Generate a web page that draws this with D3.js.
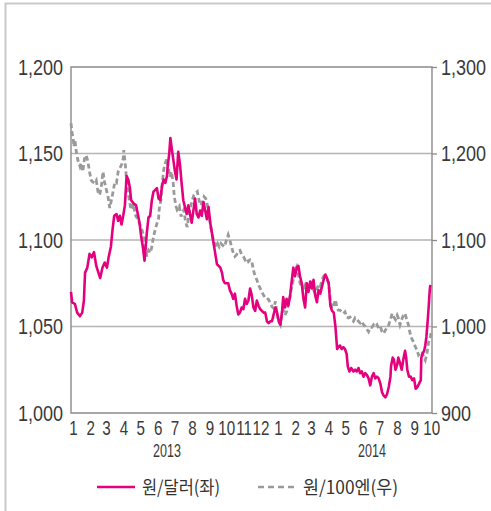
<!DOCTYPE html>
<html>
<head>
<meta charset="utf-8">
<script src="https://cdn.jsdelivr.net/npm/d3@7"></script>
<style>
  html, body { margin: 0; padding: 0; background: #fff; }
  svg { display: block; }
  .num { font-family: "Liberation Sans", Arial, sans-serif; fill: #3a3a3a; }
  .kr { font-family: "Noto Sans CJK KR", "Noto Sans", sans-serif; fill: #333; }
</style>
</head>
<body>
<svg id="chart" width="491" height="511"></svg>
<script>
// ---- data ----
// [days since 2013-01-02, value]
const usdKrw = [[0,1070],[2,1064],[7,1063],[11,1058],[16,1056],[20,1058],[23,1065],[25,1081],[29,1084],[33,1092],[37,1090],[41,1093],[45,1085],[49,1081],[52,1078],[56,1084],[60,1087],[64,1084],[67,1090],[71,1096],[74,1106],[77,1114],[81,1115],[84,1111],[87,1114],[90,1109],[93,1114],[96,1120],[99,1137],[102,1135],[105,1130],[107,1123],[112,1121],[116,1120],[119,1115],[122,1110],[125,1102],[128,1096],[131,1088],[135,1104],[138,1113],[141,1114],[144,1123],[147,1128],[150,1129],[153,1130],[156,1124],[159,1123],[162,1131],[165,1135],[168,1133],[171,1137],[172,1142],[175,1150],[177,1159],[179,1154],[182,1147],[185,1140],[188,1135],[191,1151],[194,1144],[197,1133],[200,1123],[203,1119],[206,1115],[209,1120],[212,1115],[215,1110],[218,1117],[221,1124],[224,1115],[227,1113],[230,1117],[233,1114],[236,1122],[239,1117],[242,1112],[245,1119],[248,1110],[251,1104],[254,1098],[257,1092],[260,1086],[263,1085],[266,1084],[269,1081],[271,1077],[274,1075],[280,1075],[283,1071],[286,1069],[289,1066],[292,1069],[295,1062],[298,1057],[301,1058],[304,1061],[307,1060],[310,1066],[313,1063],[316,1065],[319,1072],[322,1068],[325,1061],[328,1059],[331,1065],[334,1062],[337,1060],[343,1058],[346,1058],[349,1053],[352,1052],[355,1053],[358,1053],[361,1057],[364,1061],[367,1058],[370,1053],[373,1051],[376,1059],[378,1067],[381,1061],[384,1066],[387,1062],[390,1067],[393,1076],[396,1084],[399,1079],[402,1084],[405,1085],[408,1079],[411,1075],[414,1066],[417,1061],[420,1075],[423,1070],[426,1076],[429,1072],[432,1077],[435,1068],[438,1064],[441,1071],[444,1069],[447,1073],[450,1077],[453,1080],[456,1078],[459,1075],[462,1062],[465,1059],[468,1058],[471,1050],[474,1037],[476,1038],[479,1039],[482,1037],[485,1038],[488,1037],[491,1034],[493,1027],[496,1024],[499,1026],[503,1024],[506,1025],[509,1024],[512,1026],[515,1023],[518,1024],[521,1021],[524,1023],[527,1022],[530,1020],[533,1016],[536,1021],[539,1023],[542,1020],[545,1021],[548,1020],[551,1017],[554,1012],[557,1010],[560,1009],[563,1011],[566,1015],[569,1021],[570,1027],[573,1032],[575,1031],[578,1025],[581,1028],[583,1032],[586,1029],[589,1025],[592,1031],[595,1036],[597,1032],[599,1025],[602,1021],[605,1021],[608,1019],[611,1020],[614,1014],[617,1015],[620,1017],[623,1019],[624,1032],[626,1034],[629,1036],[631,1039],[633,1044],[635,1052],[637,1061],[639,1071],[640,1074]];

const jpyKrw = [[0,1235],[2,1223],[4,1218],[5,1208],[7,1216],[9,1204],[12,1193],[16,1185],[18,1189],[21,1179],[24,1194],[27,1198],[30,1191],[33,1179],[36,1169],[39,1167],[42,1166],[45,1169],[48,1156],[51,1152],[54,1162],[57,1179],[60,1166],[63,1158],[66,1150],[69,1137],[72,1146],[75,1156],[78,1167],[81,1166],[84,1179],[87,1183],[90,1187],[93,1194],[94,1204],[97,1185],[99,1169],[102,1154],[105,1142],[107,1135],[111,1142],[114,1131],[116,1127],[119,1125],[122,1119],[125,1115],[128,1108],[131,1096],[135,1081],[138,1088],[141,1085],[144,1092],[147,1104],[150,1112],[153,1119],[156,1125],[157,1135],[160,1146],[162,1162],[165,1181],[168,1189],[171,1194],[173,1185],[176,1173],[179,1179],[182,1166],[184,1150],[187,1139],[189,1135],[193,1139],[196,1127],[198,1131],[201,1135],[204,1121],[207,1115],[210,1129],[213,1139],[216,1146],[219,1152],[222,1154],[225,1156],[228,1146],[231,1140],[234,1144],[237,1150],[240,1148],[243,1140],[246,1127],[249,1115],[252,1104],[255,1098],[258,1092],[261,1096],[264,1092],[267,1096],[270,1094],[273,1092],[278,1102],[280,1106],[283,1100],[286,1092],[289,1085],[292,1081],[295,1083],[298,1087],[301,1088],[304,1083],[307,1081],[310,1077],[313,1079],[316,1075],[319,1077],[322,1075],[325,1065],[328,1058],[331,1054],[334,1048],[337,1044],[340,1040],[343,1036],[346,1033],[349,1033],[352,1031],[355,1027],[358,1023],[361,1021],[364,1029],[367,1015],[370,1006],[373,1002],[376,1015],[378,1019],[381,1013],[384,1017],[387,1027],[390,1034],[393,1046],[396,1054],[399,1065],[402,1069],[405,1060],[408,1050],[411,1046],[414,1044],[417,1048],[420,1042],[423,1046],[426,1048],[429,1054],[432,1042],[435,1038],[438,1044],[441,1048],[444,1046],[447,1054],[450,1058],[453,1056],[456,1054],[459,1050],[462,1029],[465,1021],[468,1025],[471,1031],[474,1021],[476,1019],[479,1019],[482,1017],[485,1015],[488,1017],[491,1011],[494,1010],[497,1011],[500,1008],[503,1006],[506,1010],[509,1008],[512,1006],[515,1004],[518,1006],[521,1002],[524,1000],[527,997],[530,994],[533,999],[536,999],[539,1002],[542,1000],[545,1002],[548,998],[551,1000],[554,994],[557,992],[560,996],[563,998],[566,1002],[569,1008],[572,1015],[575,1011],[578,1008],[581,1013],[583,1010],[586,1002],[589,1008],[592,1013],[595,1015],[598,1008],[601,1002],[604,992],[607,986],[610,982],[613,977],[616,973],[619,967],[622,969],[625,971],[628,965],[631,961],[634,969],[637,982],[640,988],[642,994]];

const leftTicks = [1000, 1050, 1100, 1150, 1200];
const rightTicks = [900, 1000, 1100, 1200, 1300];
const monthLabels = ["1","2","3","4","5","6","7","8","9","10","11","12","1","2","3","4","5","6","7","8","9","10"];
const yearLabels = ["2013", "2014"];
const seriesNames = ["원/달러(좌)", "원/100엔(우)"];

// ---- layout ----
const svg = d3.select("#chart");
const L = 71, R = 432, T = 67, B = 413;
const SX = 0.82; // horizontal condensing of number labels
const base = new Date(2013, 0, 2);
const toDate = d => d3.timeDay.offset(base, d);

const x = d3.scaleTime().domain([base, toDate(643)]).range([L, R]);
const yL = d3.scaleLinear().domain([1000, 1200]).range([B, T]);
const yR = d3.scaleLinear().domain([900, 1300]).range([B, T]);
const fmt = d3.format(",");

// outer frame
svg.append("path").attr("d", `M5.5,511 V3.5 H491`).attr("fill", "none")
  .attr("stroke", "#c9c9c9").attr("stroke-width", 2);

// gridlines
svg.append("g").selectAll("line").data(leftTicks.filter(v => v > 1000 && v < 1200)).join("line")
  .attr("x1", L).attr("x2", R).attr("y1", d => yL(d)).attr("y2", d => yL(d))
  .attr("stroke", "#b4b4b4").attr("stroke-width", 1.3);

// left axis
const gL = svg.append("g").attr("transform", `translate(${L},0)`)
  .call(d3.axisLeft(yL).tickValues(leftTicks).tickSize(0).tickPadding(8 / SX).tickFormat(fmt));
gL.select(".domain").remove();
gL.selectAll("text").attr("class", "num").attr("font-size", 22).attr("fill", "#3a3a3a")
  .attr("transform", `scale(${SX},1)`);

// right axis
const gR = svg.append("g").attr("transform", `translate(${R},0)`)
  .call(d3.axisRight(yR).tickValues(rightTicks).tickSize(5).tickPadding(9 / SX - 5).tickFormat(fmt));
gR.select(".domain").remove();
gR.selectAll("line").attr("stroke", "#8a8a8a").attr("stroke-width", 1.3);
gR.selectAll("text").attr("class", "num").attr("font-size", 22).attr("fill", "#3a3a3a")
  .attr("transform", `scale(${SX},1)`);

// frame lines
svg.append("path").attr("d", `M${L},${T} H${R} V${B} H${L} Z`).attr("fill", "none")
  .attr("stroke", "#8a8a8a").attr("stroke-width", 1.4);

// lines
const lineL = d3.line().x(d => x(toDate(d[0]))).y(d => yL(d[1]));
const lineR = d3.line().x(d => x(toDate(d[0]))).y(d => yR(d[1]));

svg.append("path").datum(jpyKrw).attr("d", lineR).attr("fill", "none")
  .attr("stroke", "#9a9a9a").attr("stroke-width", 2.8).attr("stroke-dasharray", "5,3");
svg.append("path").datum(usdKrw).attr("d", lineL).attr("fill", "none")
  .attr("stroke", "#e5007e").attr("stroke-width", 2.6).attr("stroke-linejoin", "round");

// month labels
const months = d3.timeMonth.range(new Date(2013, 0, 1), new Date(2014, 9, 2));
svg.append("g").selectAll("g").data(monthLabels).join("g")
  .attr("transform", (d, i) => `translate(${x(months[i]) + 3},435)`)
  .append("text").attr("class", "num").attr("font-size", 20).attr("text-anchor", "middle")
  .attr("transform", "scale(0.76,1)").text(d => d);

// year labels
svg.append("g").selectAll("g").data(yearLabels).join("g")
  .attr("transform", d => `translate(${x(new Date(+d, 5, 22))},457)`)
  .append("text").attr("class", "num").attr("font-size", 19).attr("text-anchor", "middle")
  .attr("transform", "scale(0.66,1)").text(d => d);

// legend
const leg = svg.append("g");
leg.append("line").attr("x1", 97).attr("x2", 135).attr("y1", 487).attr("y2", 487)
  .attr("stroke", "#e5007e").attr("stroke-width", 2.6);
leg.append("text").attr("class", "kr").attr("x", 142).attr("y", 494).attr("font-size", 18)
  .attr("textLength", 78).attr("lengthAdjust", "spacingAndGlyphs").text(seriesNames[0]);
leg.append("line").attr("x1", 258).attr("x2", 296).attr("y1", 487).attr("y2", 487)
  .attr("stroke", "#9a9a9a").attr("stroke-width", 2.6).attr("stroke-dasharray", "6,4");
leg.append("text").attr("class", "kr").attr("x", 303).attr("y", 494).attr("font-size", 18)
  .attr("textLength", 95).attr("lengthAdjust", "spacingAndGlyphs").text(seriesNames[1]);
</script>
</body>
</html>
